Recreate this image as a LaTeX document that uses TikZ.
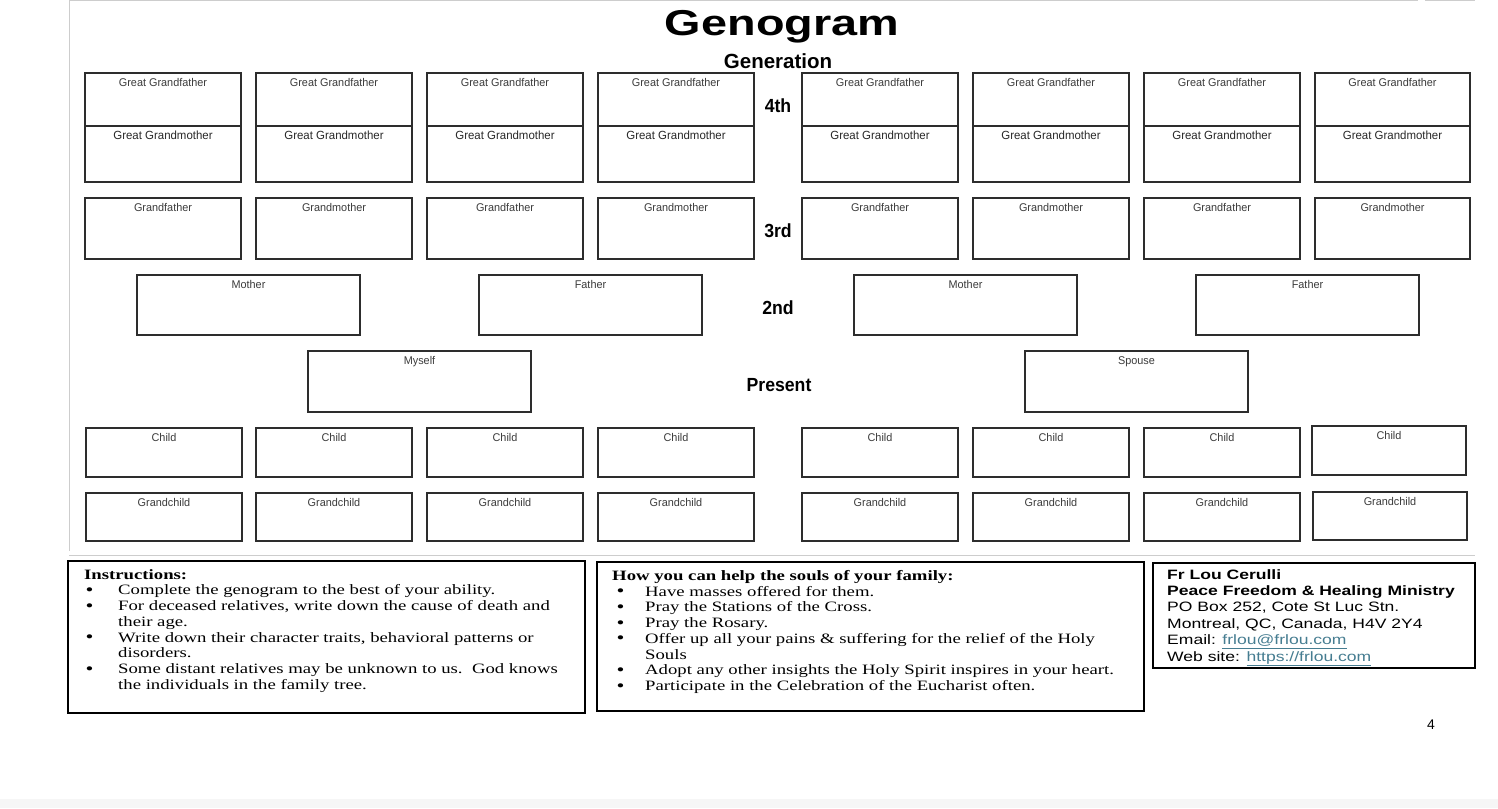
\documentclass[tikz,border=0pt]{standalone}
\usepackage{graphicx}
\usepackage{fontspec}
\setmainfont{Liberation Sans}
\newfontfamily\lblfont[FakeStretch=0.97]{Liberation Sans}
\newfontfamily\genfont[FakeStretch=0.93]{Liberation Sans}
\newfontfamily\titlefont[FakeStretch=1.3]{Liberation Sans}
\newfontfamily\serfont[FakeStretch=1.31]{Liberation Serif}
\newfontfamily\confont[FakeStretch=1.29]{Liberation Sans}
\definecolor{boxline}{RGB}{45,45,45}
\definecolor{lbltext}{RGB}{60,60,60}
\definecolor{lbltextd}{RGB}{40,40,40}
\definecolor{linkc}{RGB}{70,125,145}
\definecolor{framec}{RGB}{205,205,205}
\tikzset{
  gbox/.style={draw=boxline, line width=1.1pt, inner sep=0pt, outer sep=0pt, anchor=north west},
  glabel/.style={inner sep=0pt, anchor=north, text=lbltext, font=\lblfont\fontsize{11.2}{13}\selectfont},
  gglabel/.style={inner sep=0pt, anchor=north, text=lbltextd, font=\lblfont\fontsize{11.8}{13}\selectfont},
  genlabel/.style={inner sep=0pt, anchor=base, font=\genfont\bfseries\fontsize{19}{22}\selectfont},
  infobox/.style={draw=black, line width=2.2pt, inner sep=0pt, outer sep=0pt, anchor=north west},
  infotext/.style={inner sep=0pt, anchor=north west, align=left, font=\serfont\fontsize{14.3}{15.75}\selectfont},
  contacttext/.style={inner sep=0pt, anchor=north west, align=left, font=\confont\fontsize{13.6}{16.4}\selectfont},
  frameline/.style={draw=framec, line width=1pt}
}
% #1 name, #2 x1, #3 y1, #4 x2, #5 y2, #6 label, #7 label style
\newcommand\gbx[7]{%
  \node[gbox, minimum width=#4-#2, minimum height=#5-#3] (#1) at (#2,#3) {};
  \node[#7] (#1-t) at ([yshift=-5pt]#1.north) {#6};
}
\newcommand\bigbul{\raisebox{-0.6pt}[0pt][0pt]{\scalebox{1.2}{\textbullet}}}
\newcommand\bl[1]{\makebox[34pt][l]{\hspace*{1.5pt}\bigbul}#1}
\newcommand\bc[1]{\hspace*{34pt}#1}
\newcommand\bh[1]{\makebox[33pt][l]{\hspace*{4.5pt}\bigbul}#1}
\newcommand\bhc[1]{\hspace*{33pt}#1}
\newcommand\lnk[1]{\textcolor{linkc}{\underline{#1}}}
\begin{document}
\begin{tikzpicture}[x=1pt,y=-1pt]
\useasboundingbox (0,0) rectangle (1498,808);
\fill[white] (0,0) rectangle (1498,808);
\fill[gray!7] (0,799) rectangle (1498,808);
% faint page frame
\coordinate (fa) at (69,1);
\coordinate (fb) at (1418,1);
\coordinate (fc) at (1425,1);
\coordinate (fd) at (1475,1);
\coordinate (fe) at (69,551);
\coordinate (ff) at (1475,555);
\coordinate (fg) at (69,555);
\draw[frameline] (fa) -- (fb);
\draw[frameline] (fc) -- (fd);
\draw[frameline] (fa) -- (fe);
\draw[frameline] (fg) -- (ff);

% titles
\node[inner sep=0pt, anchor=base, font=\titlefont\bfseries\fontsize{36}{40}\selectfont] (title) at (782,36) {Genogram};
\node[inner sep=0pt, anchor=base, font=\bfseries\fontsize{20.5}{24}\selectfont] (gen) at (778,68) {Generation};
\node[genlabel] (g4) at (778,112) {4th};
\node[genlabel] (g3) at (778,237) {3rd};
\node[genlabel] (g2) at (778,314) {2nd};
\node[genlabel] (g0) at (779,391) {Present};

% 4th generation
\foreach \i/\a/\b in {1/85/241, 2/256/412, 3/427/583, 4/598/754, 5/802/958, 6/973/1129, 7/1144/1300, 8/1315/1470} {
  \gbx{ggf\i}{\a}{73}{\b}{126}{Great Grandfather}{glabel}
  \gbx{ggm\i}{\a}{126}{\b}{182}{Great Grandmother}{gglabel}
}
% 3rd generation
\foreach \i/\a/\b/\t in {1/85/241/Grandfather, 2/256/412/Grandmother, 3/427/583/Grandfather, 4/598/754/Grandmother, 5/802/958/Grandfather, 6/973/1129/Grandmother, 7/1144/1300/Grandfather, 8/1315/1470/Grandmother} {
  \gbx{gp\i}{\a}{198}{\b}{259}{\t}{glabel}
}
% 2nd generation
\gbx{m1}{137}{275}{360}{335}{Mother}{glabel}
\gbx{f1}{479}{275}{702}{335}{Father}{glabel}
\gbx{m2}{854}{275}{1077}{335}{Mother}{glabel}
\gbx{f2}{1196}{275}{1419}{335}{Father}{glabel}
% present
\gbx{me}{308}{351}{531}{412}{Myself}{glabel}
\gbx{sp}{1025}{351}{1248}{412}{Spouse}{glabel}
% children
\foreach \i/\a/\b in {1/86/242, 2/256/412, 3/427/583, 4/598/754, 5/802/958, 6/973/1129, 7/1144/1300} {
  \gbx{ch\i}{\a}{428}{\b}{477}{Child}{glabel}
  \gbx{gc\i}{\a}{493}{\b}{541}{Grandchild}{glabel}
}
\gbx{ch8}{1312}{426}{1466}{475}{Child}{glabel}
\gbx{gc8}{1313}{492}{1467}{540}{Grandchild}{glabel}

% instructions
\node[infobox, minimum width=517, minimum height=152] (ins) at (68,561) {};
\node[infotext] (inst) at (84,569) {%
\textbf{Instructions:}\\
\bl{Complete the genogram to the best of your ability.}\\
\bl{For deceased relatives, write down the cause of death and}\\
\bc{their age.}\\
\bl{Write down their character traits, behavioral patterns or}\\
\bc{disorders.}\\
\bl{Some distant relatives may be unknown to us.\ \ God knows}\\
\bc{the individuals in the family tree.}};

% help
\node[infobox, minimum width=547, minimum height=149] (help) at (597,562) {};
\node[infotext] (helpt) at (612,570) {%
\textbf{How you can help the souls of your family:}\\
\bh{Have masses offered for them.}\\
\bh{Pray the Stations of the Cross.}\\
\bh{Pray the Rosary.}\\
\bh{Offer up all your pains \& suffering for the relief of the Holy}\\
\bhc{Souls}\\
\bh{Adopt any other insights the Holy Spirit inspires in your heart.}\\
\bh{Participate in the Celebration of the Eucharist often.}};

% contact
\node[infobox, minimum width=322, minimum height=105] (con) at (1153,563) {};
\node[contacttext] (cont) at (1167,569) {%
\textbf{Fr Lou Cerulli}\\
\textbf{Peace Freedom \& Healing Ministry}\\
PO Box 252, Cote St Luc Stn.\\
Montreal, QC, Canada, H4V 2Y4\\
Email: \lnk{frlou@frlou.com}\\
Web site: \lnk{https://frlou.com}};

% page number
\node[inner sep=0pt, anchor=base, font=\fontsize{14}{16}\selectfont] (pg) at (1431,729) {4};
\end{tikzpicture}
\end{document}
